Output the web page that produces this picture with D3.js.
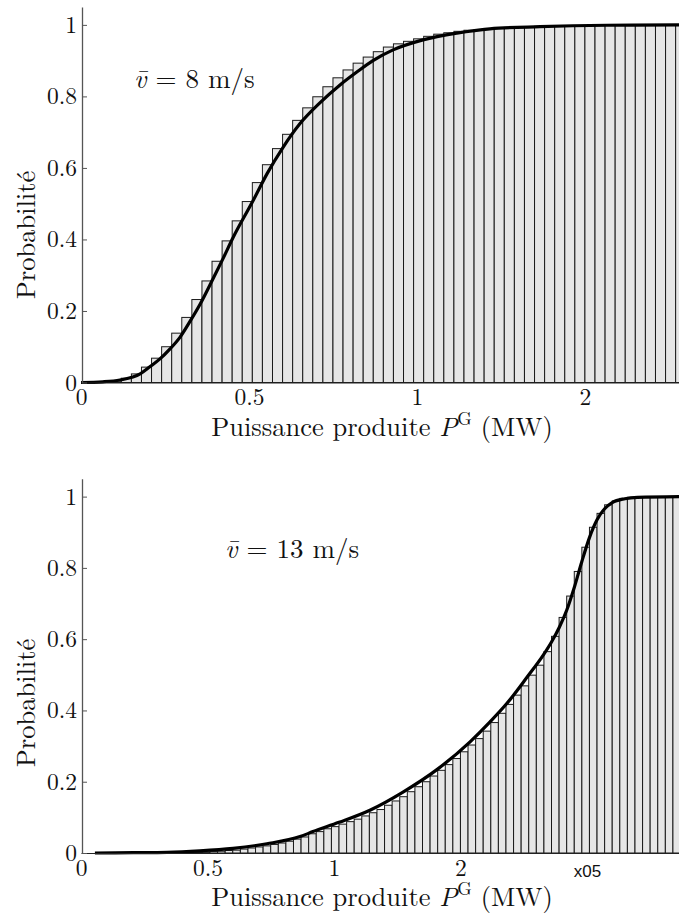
<!DOCTYPE html>
<html lang="fr">
<head>
<meta charset="UTF-8">
<title>Probabilité cumulée</title>
<script src="https://cdn.jsdelivr.net/npm/d3@7"></script>
<style>
  body { margin: 0; background: #fff; }
</style>
</head>
<body>
<svg id="chart" width="679" height="916"></svg>
<script>
var serif = "'Latin Modern Roman', 'Liberation Serif', serif";

// largeur d'une classe de l'histogramme (unités de l'axe)
var binWidth = 0.03;

// v = 8 m/s : histogramme cumulé (hauteur de chaque classe)
var barsTop = [0.000, 0.000, 0.001, 0.004, 0.012, 0.024, 0.043, 0.068, 0.100, 0.138,
               0.182, 0.232, 0.284, 0.339, 0.396, 0.452, 0.506, 0.559, 0.609, 0.654,
               0.694, 0.733, 0.768, 0.799, 0.827, 0.852, 0.874, 0.893, 0.910, 0.925,
               0.938, 0.947, 0.954, 0.961, 0.968, 0.974, 0.978, 0.982, 0.985, 0.987,
               0.990, 0.992, 0.993, 0.994, 0.995, 0.996, 0.996, 0.997, 0.997, 0.998,
               0.998, 0.998, 0.999, 0.999, 0.999, 0.999, 1.000, 1.000, 1.000, 1.000];
// v = 8 m/s : courbe théorique
var curveTopX = [0, 0.065, 0.116, 0.176, 0.205, 0.235, 0.265, 0.295, 0.324, 0.354,
                 0.393, 0.422, 0.452, 0.512, 0.554, 0.601, 0.652, 0.711, 0.771, 0.821,
                 0.869, 0.929, 1.018, 1.119, 1.217, 1.366, 1.565, 1.78];
var curveTopY = [0, 0.002, 0.007, 0.024, 0.044, 0.066, 0.094, 0.127, 0.170, 0.218,
                 0.290, 0.345, 0.404, 0.508, 0.584, 0.657, 0.724, 0.782, 0.832, 0.868,
                 0.900, 0.930, 0.958, 0.977, 0.989, 0.995, 0.999, 1.000];
var ticksTopX = [0, 0.5, 1, 1.5];
var labelsTopX = ["0", "0.5", "1", "2"];

// v = 13 m/s
var barsBottom = [0.000, 0.000, 0.000, 0.000, 0.000, 0.000, 0.000, 0.000, 0.000, 0.000,
                  0.000, 0.001, 0.001, 0.001, 0.002, 0.002, 0.003, 0.004, 0.005, 0.007,
                  0.008, 0.011, 0.014, 0.017, 0.020, 0.024, 0.028, 0.033, 0.039, 0.045,
                  0.054, 0.060, 0.068, 0.074, 0.081, 0.088, 0.095, 0.104, 0.113, 0.122,
                  0.134, 0.146, 0.158, 0.172, 0.186, 0.200, 0.216, 0.232, 0.248, 0.265,
                  0.284, 0.303, 0.321, 0.342, 0.366, 0.392, 0.417, 0.443, 0.469, 0.499,
                  0.527, 0.565, 0.608, 0.661, 0.721, 0.790, 0.858, 0.914, 0.953, 0.977,
                  0.988, 0.995, 0.998, 0.999, 0.999, 1.000, 1.000, 1.000, 1.000];
var curveBottomX = [0.055, 0.206, 0.340, 0.470, 0.601, 0.735, 0.866, 0.917, 1.020, 1.142,
                    1.273, 1.407, 1.538, 1.617, 1.684, 1.763, 1.83, 1.86, 1.89, 1.92,
                    1.95, 1.98, 2.01, 2.04, 2.07, 2.10, 2.15, 2.20, 2.364];
var curveBottomY = [0, 0.001, 0.002, 0.006, 0.013, 0.026, 0.046, 0.060, 0.086, 0.120,
                    0.171, 0.234, 0.312, 0.368, 0.420, 0.493, 0.558, 0.592, 0.632, 0.681,
                    0.745, 0.818, 0.885, 0.935, 0.966, 0.983, 0.994, 0.998, 1.000];
var ticksBottomX = [0, 0.5, 1, 1.5, 2];
var labelsBottomX = ["0", "0.5", "1", "2", "x05"];

var ticksY = [0, 0.2, 0.4, 0.6, 0.8, 1];

var svg = d3.select("#chart");

function panel(o) {
    var x = d3.scaleLinear().domain([0, o.xMax]).range([81, 679]);
    var y = d3.scaleLinear().domain([0, 1.05]).range([o.y0, o.y1]);
    var g = svg.append("g");

    // barres
    g.selectAll("rect.bar")
        .data(o.bars)
        .enter()
        .append("rect")
        .attr("class", "bar")
        .attr("x", (d, i) => x(i * binWidth))
        .attr("width", x(binWidth) - x(0))
        .attr("y", d => y(d))
        .attr("height", d => y(0) - y(d))
        .attr("fill", "#e6e6e6")
        .attr("stroke", "#1a1a1a")
        .attr("stroke-width", 1);

    // courbe
    var pts = o.cx.map((v, i) => [v, o.cy[i]]);
    g.append("path")
        .datum(pts)
        .attr("fill", "none")
        .attr("stroke", "#000")
        .attr("stroke-width", 3.2)
        .attr("stroke-linejoin", "round")
        .attr("d", d3.line().x(d => x(d[0])).y(d => y(d[1])).curve(d3.curveMonotoneX));

    // axe x
    var ax = g.append("g")
        .attr("transform", "translate(0," + y(0) + ")")
        .call(d3.axisBottom(x).tickValues(o.ticks).tickFormat((d, i) => o.labels[i])
            .tickSizeInner(0).tickSizeOuter(0).tickPadding(7));
    ax.select(".domain").attr("stroke", "#222").attr("stroke-width", 1.2);
    ax.selectAll("text")
        .style("font-family", (d, i) => o.labels[i] === "x05" ? "'Liberation Sans', sans-serif" : serif)
        .attr("fill", "#111")
        .attr("font-size", (d, i) => o.labels[i] === "x05" ? 17 : 23.5)
        .attr("dy", (d, i) => o.labels[i] === "x05" ? "1.0em" : "0.68em");

    // axe y
    var ay = g.append("g")
        .attr("transform", "translate(82,0)")
        .call(d3.axisLeft(y).tickValues(ticksY).tickFormat(d3.format("~g"))
            .tickSizeInner(-5).tickSizeOuter(0).tickPadding(5));
    ay.select(".domain").attr("stroke", "#555").attr("stroke-width", 1.3);
    ay.selectAll(".tick line").attr("stroke", "#555");
    ay.selectAll("text").style("font-family", serif).attr("fill", "#111").attr("font-size", 23.5);

    // titre x
    var t = g.append("text")
        .attr("x", 382).attr("y", o.xLabelY)
        .attr("text-anchor", "middle")
        .style("font-family", serif)
        .attr("fill", "#111")
        .attr("font-size", 26.5);
    t.append("tspan").text("Puissance produite ");
    t.append("tspan").attr("font-style", "italic").text("P");
    t.append("tspan").attr("font-size", 18.5).attr("dy", -11).text("G");
    t.append("tspan").attr("dy", 11).text(" (MW)");

    // titre y
    g.append("text")
        .attr("transform", "translate(35," + o.yLabelY + ") rotate(-90)")
        .attr("text-anchor", "middle")
        .style("font-family", serif)
        .attr("fill", "#111")
        .attr("font-size", 26.5)
        .text("Probabilité");

    // annotation
    var a = g.append("text")
        .attr("x", o.noteX).attr("y", o.noteY)
        .style("font-family", serif)
        .attr("fill", "#111")
        .attr("font-size", 27)
        .attr("xml:space", "preserve");
    a.append("tspan").attr("font-style", "italic").text("v\u0304");
    a.append("tspan").text(" = " + o.note);
}

panel({
    bars: barsTop, cx: curveTopX, cy: curveTopY,
    ticks: ticksTopX, labels: labelsTopX,
    xMax: 1.78, y0: 382.5, y1: 7,
    xLabelY: 436, yLabelY: 235,
    noteX: 134, noteY: 88, note: "8 m/s"
});

panel({
    bars: barsBottom, cx: curveBottomX, cy: curveBottomY,
    ticks: ticksBottomX, labels: labelsBottomX,
    xMax: 2.364, y0: 853, y1: 478.8,
    xLabelY: 906, yLabelY: 703,
    noteX: 225, noteY: 558, note: "13 m/s"
});
</script>
</body>
</html>
